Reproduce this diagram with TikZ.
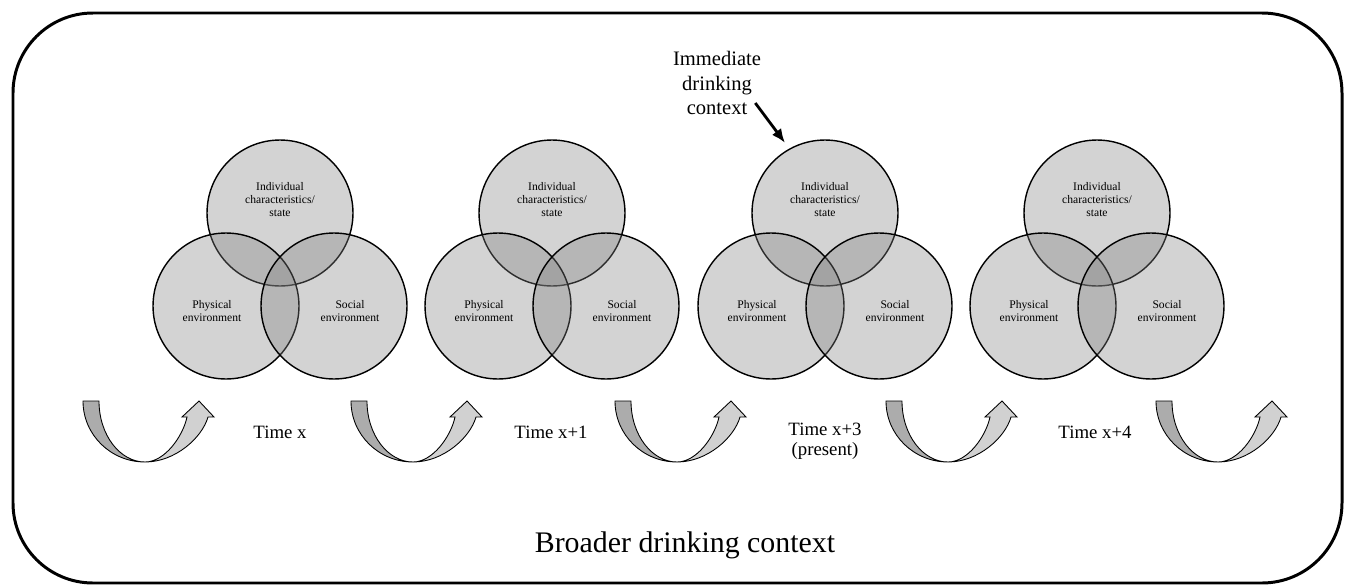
\documentclass[tikz,border=0pt]{standalone}
\usepackage{fontspec}
\setmainfont{Liberation Serif}
\usetikzlibrary{arrows.meta}

\begin{document}
\begin{tikzpicture}[x=0.02cm, y=-0.02cm, >={Latex[length=8pt,width=6.5pt]},
    venn/.style={circle, draw, line width=0.8pt, fill=black!50, fill opacity=0.35, minimum size=2.92cm, inner sep=0pt},
    venntext/.style={align=center, inner sep=0pt, font=\fontsize{6.6}{7.4}\selectfont},
    timetext/.style={align=center, inner sep=0pt, font=\fontsize{10.7}{11.6}\selectfont},
    uturn/.style={draw, line width=0.5pt, fill=#1}]
    \useasboundingbox (0,0) rectangle (1350,585);
    \draw[line width=1.7pt, rounded corners=1.6cm] (13,13) rectangle (1342,583);

    % the three circles of each moment
    \foreach \g/\cx in {1/280, 2/552, 3/825, 4/1097} {
        \node[venn] (indiv\g) at (\cx,213) {};
        \node[venn] (phys\g) at (\cx-54,306) {};
        \node[venn] (soc\g) at (\cx+54,306) {};
        \node[venntext] (indivtext\g) at (\cx,200) {Individual\\characteristics/\\state};
        \node[venntext] (phystext\g) at (\cx-68,311) {Physical\\environment};
        \node[venntext] (soctext\g) at (\cx+70,311) {Social\\environment};
    }

    \node[timetext] (time1) at (280,432) {Time x};
    \node[timetext] (time2) at (551,432) {Time x+1};
    \node[timetext] (time3) at (825,441) {Time x+3\\(present)};
    \node[timetext] (time4) at (1095,432) {Time x+4};

    % u-turn arrows between the moments
    \foreach \bx in {145,413,677,948,1218} {
        \draw[uturn=gray!65] (\bx-62,401) .. controls (\bx-62,435) and (\bx-34,462) .. (\bx,462)
            .. controls (\bx-25,462) and (\bx-46,435) .. (\bx-46,401) -- cycle;
        \draw[uturn=black!18] (\bx,462) .. controls (\bx+30,462) and (\bx+57,438) .. (\bx+63,417)
            -- (\bx+69,417) -- (\bx+54,401) -- (\bx+37,417) -- (\bx+42,417)
            .. controls (\bx+38,436) and (\bx+20,462) .. (\bx,462) -- cycle;
    }

    \node[align=center, inner sep=0pt, font=\fontsize{11.7}{14.2}\selectfont] (immediate) at (717,83) {Immediate\\drinking\\context};
    \draw[->, line width=1.6pt, shorten >=4pt] ([shift={(-6,20)}]immediate.east) -- (indiv3.119);

    \node[font=\fontsize{17}{20}\selectfont] (broader) at (685,545) {Broader drinking context};
\end{tikzpicture}
\end{document}
